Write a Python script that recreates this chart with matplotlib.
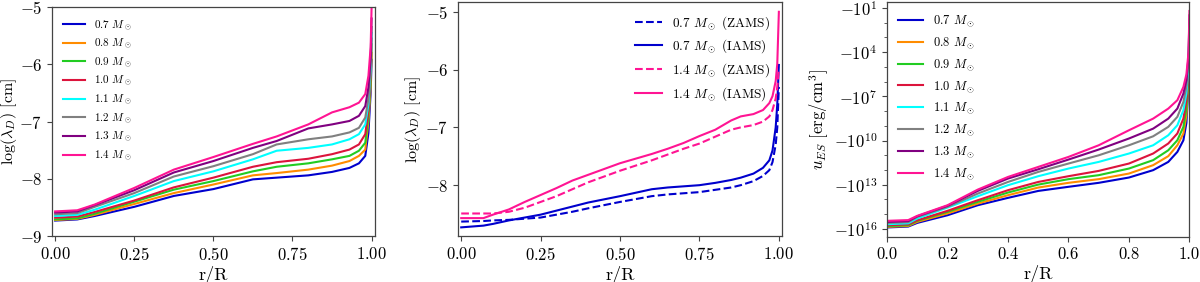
import numpy as np
import matplotlib
matplotlib.use("Agg")
import matplotlib.pyplot as plt
from matplotlib.ticker import FixedLocator

plt.rcParams["font.family"] = "serif"
plt.rcParams["font.serif"] = ["cmr10"]
plt.rcParams["mathtext.fontset"] = "cm"
plt.rcParams["axes.formatter.use_mathtext"] = True
plt.rcParams["axes.unicode_minus"] = True

masses = ["0.7", "0.8", "0.9", "1.0", "1.1", "1.2", "1.3", "1.4"]
colors = ["#0000cd", "#ff8c00", "#22cc22", "#dc143c", "#00ffff", "#808080", "#800080", "#ff1493"]

# --- left: log(lambda_D) for each mass
r_left = [0.0, 0.07, 0.125, 0.25, 0.375, 0.5, 0.625, 0.7, 0.8, 0.875, 0.93, 0.96, 0.98, 0.99, 0.997, 1.0]
lam_left = [
    [-8.73, -8.71, -8.65, -8.49, -8.30, -8.18, -8.01, -7.98, -7.94, -7.88, -7.81, -7.73, -7.60, -7.20, -6.50, -5.92],
    [-8.72, -8.70, -8.63, -8.44, -8.25, -8.10, -7.94, -7.90, -7.84, -7.77, -7.69, -7.60, -7.49, -7.00, -6.40, -5.80],
    [-8.71, -8.69, -8.61, -8.40, -8.19, -8.04, -7.87, -7.79, -7.73, -7.66, -7.60, -7.51, -7.37, -6.90, -6.30, -5.65],
    [-8.68, -8.66, -8.58, -8.38, -8.15, -7.98, -7.79, -7.71, -7.65, -7.57, -7.49, -7.40, -7.22, -6.80, -6.20, -5.55],
    [-8.65, -8.63, -8.54, -8.30, -8.04, -7.87, -7.66, -7.51, -7.46, -7.40, -7.31, -7.22, -7.05, -6.70, -6.10, -5.45],
    [-8.62, -8.60, -8.49, -8.25, -7.96, -7.78, -7.57, -7.40, -7.31, -7.26, -7.19, -7.11, -6.93, -6.60, -6.00, -5.35],
    [-8.59, -8.57, -8.46, -8.20, -7.89, -7.69, -7.46, -7.34, -7.12, -7.05, -6.99, -6.90, -6.73, -6.40, -5.90, -5.20],
    [-8.57, -8.55, -8.45, -8.16, -7.84, -7.62, -7.39, -7.26, -7.05, -6.84, -6.75, -6.67, -6.52, -6.20, -5.70, -5.00],
]

# --- middle: ZAMS vs IAMS
r_mid = [0.0, 0.07, 0.1, 0.15, 0.2, 0.25, 0.3, 0.35, 0.4, 0.5, 0.6, 0.65, 0.7, 0.75,
         0.8, 0.85, 0.88, 0.92, 0.95, 0.97, 0.98, 0.99, 0.995, 1.0]
lam_07_zams = [-8.63, -8.62, -8.61, -8.60, -8.58, -8.56, -8.51, -8.46, -8.40, -8.29, -8.19, -8.16,
               -8.14, -8.12, -8.08, -8.04, -8.00, -7.93, -7.84, -7.74, -7.60, -7.30, -7.00, -6.30]
lam_07_iams = [-8.73, -8.70, -8.67, -8.61, -8.56, -8.51, -8.44, -8.37, -8.30, -8.19, -8.07, -8.04,
               -8.02, -8.00, -7.96, -7.91, -7.87, -7.80, -7.70, -7.57, -7.40, -7.00, -6.60, -5.92]
lam_14_zams = [-8.49, -8.49, -8.49, -8.46, -8.39, -8.29, -8.19, -8.07, -7.95, -7.75, -7.57, -7.47,
               -7.37, -7.28, -7.16, -7.04, -7.00, -6.96, -6.90, -6.81, -6.70, -6.50, -6.30, -6.00]
lam_14_iams = [-8.57, -8.57, -8.51, -8.42, -8.29, -8.17, -8.05, -7.92, -7.82, -7.62, -7.46, -7.37,
               -7.27, -7.15, -7.04, -6.88, -6.81, -6.77, -6.70, -6.58, -6.46, -6.20, -5.90, -5.00]

# --- right: exponent of |u_ES| (u_ES = -10**exp)
r_right = [0.0, 0.07, 0.1, 0.2, 0.3, 0.4, 0.5, 0.6, 0.7, 0.8, 0.88, 0.93, 0.96, 0.98, 0.99, 0.997, 1.0]
u_exp = [
    [15.90, 15.84, 15.59, 15.07, 14.39, 13.89, 13.42, 13.14, 12.87, 12.51, 12.01, 11.45, 10.77, 9.98, 8.8, 6.2, 3.0],
    [15.86, 15.80, 15.52, 14.95, 14.28, 13.71, 13.19, 12.87, 12.62, 12.24, 11.67, 11.06, 10.32, 9.52, 8.3, 5.9, 2.8],
    [15.81, 15.75, 15.45, 14.84, 14.16, 13.53, 12.99, 12.62, 12.35, 11.90, 11.33, 10.66, 9.98, 9.07, 7.8, 5.6, 2.5],
    [15.75, 15.69, 15.41, 14.77, 14.05, 13.37, 12.81, 12.42, 12.06, 11.56, 10.88, 10.20, 9.52, 8.51, 7.3, 5.3, 2.3],
    [15.68, 15.62, 15.29, 14.55, 13.78, 13.03, 12.42, 11.90, 11.45, 10.88, 10.32, 9.64, 8.96, 7.94, 6.8, 5.0, 2.0],
    [15.59, 15.54, 15.18, 14.50, 13.60, 12.81, 12.13, 11.56, 11.00, 10.32, 9.71, 9.07, 8.39, 7.38, 6.3, 4.6, 1.8],
    [15.52, 15.47, 15.14, 14.43, 13.42, 12.58, 11.95, 11.29, 10.61, 9.86, 9.19, 8.51, 7.83, 6.81, 5.9, 4.3, 1.5],
    [15.45, 15.40, 15.11, 14.39, 13.33, 12.47, 11.79, 11.11, 10.32, 9.30, 8.51, 7.83, 7.26, 6.36, 5.5, 4.0, 1.2],
]
u_ticks = [1, 4, 7, 10, 13, 16]

fig = plt.figure(figsize=(12, 2.82), dpi=100)
ax1 = fig.add_axes([0.0433, 0.163, 0.269, 0.812])
ax2 = fig.add_axes([0.3817, 0.163, 0.2700, 0.830])
ax3 = fig.add_axes([0.7392, 0.160, 0.2520, 0.833])

LW = 1.5
for ax in (ax1, ax2, ax3):
    for s in ax.spines.values():
        s.set_color("#444444")
        s.set_linewidth(0.9)
    ax.tick_params(labelsize=12, color="#444444")

# left
for m, c, y in zip(masses, colors, lam_left):
    ax1.plot(r_left, y, color=c, lw=LW, label=m + r" $M_\odot$")
ax1.set_xlim(-0.01, 1.01)
ax1.set_ylim(-9, -5)
ax1.set_xticks([0, 0.25, 0.5, 0.75, 1.0])
ax1.set_yticks([-9, -8, -7, -6, -5])
ax1.set_xlabel("r/R", fontsize=13, labelpad=2)
ax1.set_ylabel(r"$\log(\lambda_D)$ [cm]", fontsize=11.5, labelpad=0.5)
ax1.legend(loc="upper left", frameon=False, fontsize=8, labelspacing=0.38,
           borderaxespad=0.6)

# middle
ax2.plot(r_mid, lam_07_zams, color=colors[0], lw=LW, ls="--", label=r"0.7 $M_\odot$ (ZAMS)")
ax2.plot(r_mid, lam_07_iams, color=colors[0], lw=LW, label=r"0.7 $M_\odot$ (IAMS)")
ax2.plot(r_mid, lam_14_zams, color=colors[-1], lw=LW, ls="--", label=r"1.4 $M_\odot$ (ZAMS)")
ax2.plot(r_mid, lam_14_iams, color=colors[-1], lw=LW, label=r"1.4 $M_\odot$ (IAMS)")
ax2.set_xlim(-0.01, 1.01)
ax2.set_ylim(-8.88, -4.83)
ax2.set_xticks([0, 0.25, 0.5, 0.75, 1.0])
ax2.set_yticks([-8, -7, -6, -5])
ax2.set_xlabel("r/R", fontsize=13, labelpad=2)
ax2.set_ylabel(r"$\log(\lambda_D)$ [cm]", fontsize=11.5, labelpad=2)
ax2.legend(loc="upper right", frameon=False, fontsize=9.5, labelspacing=0.45)

# right
for m, c, e in zip(masses, colors, u_exp):
    ax3.plot(r_right, -10.0 ** np.array(e), color=c, lw=LW, label=m + r" $M_\odot$")
ax3.set_yscale("symlog", linthresh=1)
ax3.set_xlim(0, 1)
ax3.set_ylim(-10 ** 16.54, -10 ** 0.59)
ax3.set_xticks([0, 0.2, 0.4, 0.6, 0.8, 1.0])
ax3.set_xticklabels(["0.0", "0.2", "0.4", "0.6", "0.8", "1.0"])
ax3.set_yticks([-10.0 ** k for k in u_ticks])
ax3.set_yticklabels([r"$-10^{%d}$" % k for k in u_ticks])
ax3.yaxis.set_minor_locator(FixedLocator([-10.0 ** k for k in range(1, 17) if k not in u_ticks]))
ax3.tick_params(which="minor", length=2, color="#444444")
ax3.set_xlabel("r/R", fontsize=13, labelpad=2)
ax3.set_ylabel(r"$u_{ES}$ [erg/cm$^3$]", fontsize=12, labelpad=2)
ax3.legend(loc="upper left", frameon=False, fontsize=9, labelspacing=0.5)

fig.savefig("out.png", dpi=100, facecolor="white")
